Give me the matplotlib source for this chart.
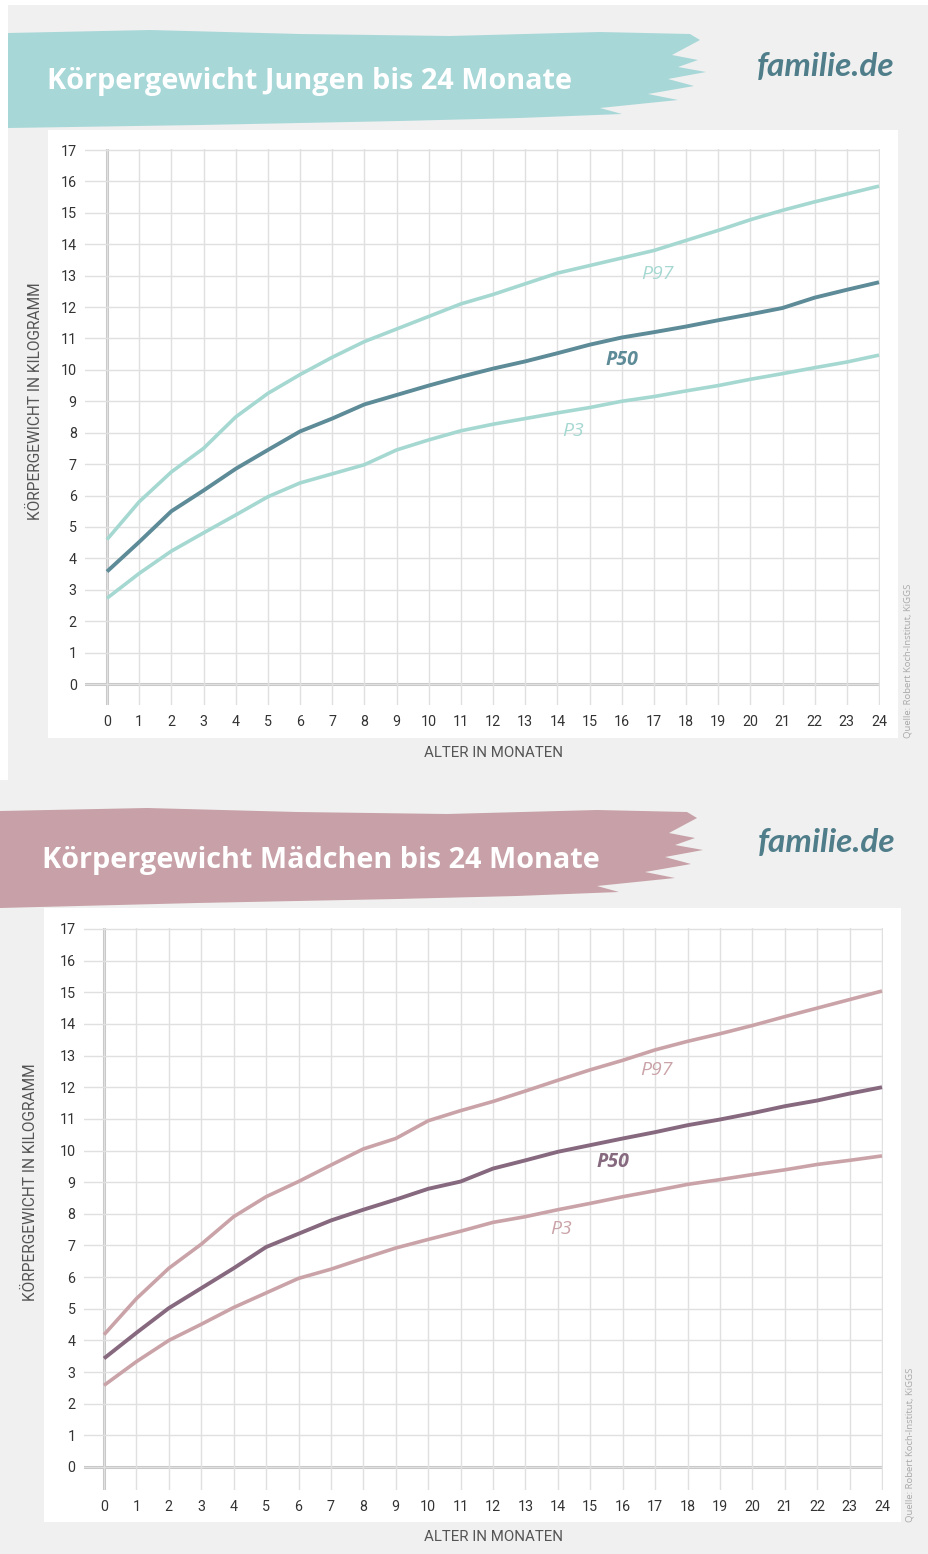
import matplotlib
matplotlib.use("Agg")
import matplotlib.pyplot as plt
from matplotlib.patches import Polygon, Rectangle

# ---------------- data ----------------
months = list(range(0, 25))
x_ticks = list(range(0, 25))
y_ticks = list(range(0, 18))

boys_p97 = [4.6, 5.8, 6.75, 7.5, 8.5, 9.25, 9.85, 10.4, 10.9, 11.3, 11.7, 12.1, 12.4,
            12.74, 13.08, 13.32, 13.56, 13.8, 14.12, 14.44, 14.78, 15.08, 15.35, 15.6, 15.85]
boys_p50 = [3.58, 4.52, 5.5, 6.16, 6.85, 7.45, 8.04, 8.45, 8.9, 9.2, 9.5, 9.78, 10.04,
            10.27, 10.53, 10.8, 11.03, 11.2, 11.38, 11.58, 11.77, 11.97, 12.3, 12.55, 12.79]
boys_p3 = [2.73, 3.52, 4.23, 4.81, 5.38, 5.96, 6.4, 6.69, 6.98, 7.45, 7.77, 8.06, 8.27,
           8.45, 8.63, 8.8, 9.0, 9.15, 9.33, 9.5, 9.7, 9.88, 10.07, 10.25, 10.47]

girls_p97 = [4.18, 5.32, 6.28, 7.04, 7.91, 8.54, 9.02, 9.54, 10.05, 10.38, 10.94, 11.26, 11.55,
             11.88, 12.22, 12.55, 12.85, 13.18, 13.45, 13.69, 13.95, 14.23, 14.5, 14.77, 15.04]
girls_p50 = [3.43, 4.24, 5.02, 5.65, 6.28, 6.95, 7.37, 7.79, 8.13, 8.45, 8.79, 9.02, 9.43,
             9.69, 9.96, 10.17, 10.38, 10.58, 10.8, 10.98, 11.18, 11.4, 11.58, 11.8, 12.0]
girls_p3 = [2.58, 3.33, 4.0, 4.51, 5.04, 5.5, 5.96, 6.25, 6.59, 6.92, 7.19, 7.45, 7.73,
            7.91, 8.13, 8.33, 8.54, 8.73, 8.93, 9.08, 9.24, 9.39, 9.56, 9.69, 9.83]

titles = ["Körpergewicht Jungen bis 24 Monate", "Körpergewicht Mädchen bis 24 Monate"]
series_labels = ["P97", "P50", "P3"]
xlabel = "ALTER IN MONATEN"
ylabel = "KÖRPERGEWICHT IN KILOGRAMM"
source = "Quelle: Robert Koch-Institut, KiGGS"
logo = "familie.de"

# ---------------- figure ----------------
W, H = 929, 1554
fig = plt.figure(figsize=(W / 100, H / 100), dpi=100)
fig.patch.set_facecolor("#f0f0f0")


def fx(x):
    return x / W


def fy(y):
    return 1 - y / H


def rect(x0, y0, x1, y1, color, z=-2):
    fig.patches.append(Rectangle((fx(x0), fy(y1)), fx(x1) - fx(x0), fy(y0) - fy(y1),
                                 transform=fig.transFigure, facecolor=color,
                                 edgecolor="none", zorder=z))


def banner(pts, color):
    fig.patches.append(Polygon([(fx(x), fy(y)) for x, y in pts], closed=True,
                               transform=fig.transFigure, facecolor=color,
                               edgecolor="none", zorder=1))


# white strips at the very top / left
rect(0, 0, W, 5, "white")
rect(0, 0, 8, 780, "white")

# white panels
rect(48, 130, 898, 738, "white")
rect(44, 908, 901, 1522, "white")

# banners
top_pts = [(8, 33), (150, 30), (300, 34), (450, 36), (600, 32), (690, 34), (700, 40),
           (672, 55), (698, 60), (678, 67), (706, 72), (668, 79), (694, 86), (648, 94),
           (678, 100), (600, 108), (622, 114), (520, 118), (400, 121), (200, 125), (8, 128)]
banner(top_pts, "#a8d7d8")
bot_pts = [(p[0] - 3, p[1] + 778) for p in top_pts]
bot_pts[0] = (0, 811)
bot_pts[-1] = (0, 908)
banner(bot_pts, "#c7a1a7")

title_font = dict(family=["Open Sans", "DejaVu Sans"], weight="bold", color="white",
                  fontsize=20.8, zorder=3)
fig.text(fx(47), fy(82), titles[0], va="center", ha="left", **title_font)
fig.text(fx(42), fy(860), titles[1], va="center", ha="left", **title_font)

logo_font = dict(family=["Lato", "DejaVu Sans"], style="italic", weight="bold",
                 color="#4f7e8a", fontsize=24, zorder=3)
fig.text(fx(826), fy(66), logo, ha="center", va="center", **logo_font)
fig.text(fx(827), fy(843), logo, ha="center", va="center", **logo_font)


def make_chart(x0px, x24px, y0px, y17px, xmin, ymin, p97, p50, p3, light, dark,
               lab_pos, ylab_x, xlab_y, src_x, src_y):
    xmax, ymax = 24.04, 17.04
    sx = (x24px - x0px) / 24.0
    sy = (y0px - y17px) / 17.0
    left = x0px + xmin * sx
    right = x0px + xmax * sx
    bottom = y0px - ymin * sy
    top = y0px - ymax * sy
    ax = fig.add_axes([fx(left), fy(bottom), (right - left) / W, (bottom - top) / H])
    ax.set_facecolor("none")
    ax.set_xlim(xmin, xmax)
    ax.set_ylim(ymin, ymax)
    ax.set_xticks(x_ticks)
    ax.set_yticks(y_ticks)
    ax.set_xticklabels([str(t) for t in x_ticks])
    ax.set_yticklabels([str(t) for t in y_ticks])
    for s in ax.spines.values():
        s.set_visible(False)
    ax.tick_params(length=0, labelsize=10.3, labelcolor="#333333", pad=7)
    ax.tick_params(axis="y", pad=6)
    for lab in ax.get_xticklabels() + ax.get_yticklabels():
        lab.set_family(["Roboto", "DejaVu Sans"])
    ax.grid(True, color="#e0e0e0", lw=1.0, zorder=0)
    ax.axhline(0, color="#c4c4c4", lw=2.2, zorder=1)
    ax.axvline(0, color="#c4c4c4", lw=2.2, zorder=1)

    ax.plot(months, p97, color=light, lw=2.6, solid_capstyle="butt", zorder=3, clip_on=False)
    ax.plot(months, p3, color=light, lw=2.6, solid_capstyle="butt", zorder=3, clip_on=False)
    ax.plot(months, p50, color=dark, lw=2.8, solid_capstyle="butt", zorder=4, clip_on=False)

    lf = dict(fontsize=14, style="italic", ha="center", va="center",
              family=["Open Sans", "DejaVu Sans"], zorder=5)
    ax.text(lab_pos[0][0], lab_pos[0][1], series_labels[0], color=light, **lf)
    ax.text(lab_pos[1][0], lab_pos[1][1], series_labels[1], color=dark, weight="bold", **lf)
    ax.text(lab_pos[2][0], lab_pos[2][1], series_labels[2], color=light, **lf)

    fig.text(fx((x0px + x24px) / 2 + 1), fy(xlab_y), xlabel, ha="center", va="center",
             fontsize=10.8, color="#555555", family=["Roboto", "DejaVu Sans"])
    fig.text(fx(ylab_x), fy((y0px + y17px) / 2 - 16), ylabel, ha="center", va="center",
             rotation=90, fontsize=11.2, color="#555555", family=["Roboto", "DejaVu Sans"])
    fig.text(fx(src_x), fy(src_y), source, ha="center", va="bottom", rotation=90,
             fontsize=6.8, color="#a9a9a9", family=["Open Sans", "DejaVu Sans"])
    return ax


make_chart(107, 879, 684, 150, -0.68, -0.67, boys_p97, boys_p50, boys_p3,
           "#a6d8d2", "#5d8b97",
           [(17.1, 13.05), (16.0, 10.3), (14.5, 8.05)],
           35, 753, 908, 738)

make_chart(104, 882, 1467, 929, -0.62, -0.73, girls_p97, girls_p50, girls_p3,
           "#caa3a8", "#87697f",
           [(17.05, 12.55), (15.7, 9.65), (14.1, 7.52)],
           30, 1537, 910, 1522)

fig.savefig("out.png", dpi=100, facecolor=fig.get_facecolor())
